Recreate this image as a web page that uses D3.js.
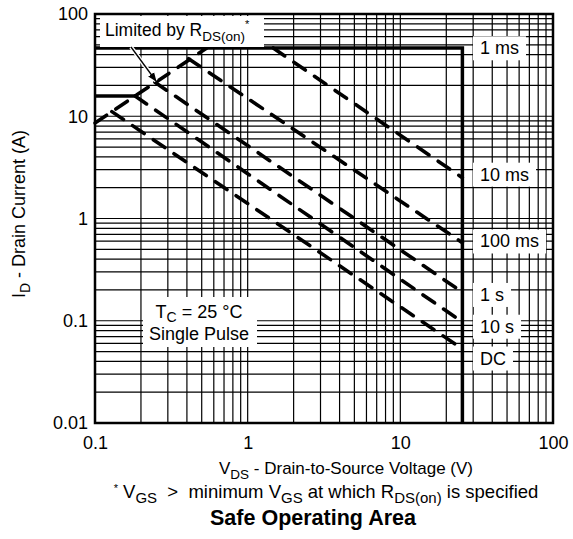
<!DOCTYPE html>
<html>
<head>
<meta charset="utf-8">
<script src="https://cdn.jsdelivr.net/npm/d3@7"></script>
<style>
  body { margin: 0; background: #fff; }
  svg { font-family: "Liberation Sans", Arial, Helvetica, sans-serif; }
</style>
</head>
<body>
<svg id="chart" width="573" height="539"></svg>
<script>
// Safe operating area (V in volts, I in amps)
var xTicks = [0.1, 1, 10, 100];
var yTicks = [0.01, 0.1, 1, 10, 100];

var curveNames = ["1 ms", "10 ms", "100 ms", "1 s", "10 s", "DC"];
var curve1ms   = [[0.1, 46.5], [25.5, 46.5], [25.5, 0.01]];
var curve10ms  = [[1.47, 46.5], [25.5, 2.5]];
var curve100ms = [[0.41, 36.5], [25.5, 0.58]];
var curve1s    = [[0.247, 21.5], [25.5, 0.19]];
var curve10s   = [[0.183, 15.8], [25.5, 0.097]];
var curveDC    = [[0.129, 11.1], [25.5, 0.053]];
var rdsLine    = [[0.1, 8.6], [0.54, 46.5]];
var shelf16A   = [[0.1, 15.8], [0.183, 15.8]];
// where the curve names sit on the right (current, A)
var labelCurrent = [46.5, 2.7, 0.6, 0.18, 0.088, 0.043];

var svg = d3.select("#chart");

var x = d3.scaleLog().domain([0.1, 100]).range([95, 553]);
var y = d3.scaleLog().domain([0.01, 100]).range([423, 14]);

// grid
var g = svg.append("g");
var xGrid = [], yGrid = [];
[0.1, 1, 10].forEach(function (d) {
  for (var k = 1; k < 10; k++) xGrid.push(k * d);
});
[0.01, 0.1, 1, 10].forEach(function (d) {
  for (var k = 1; k < 10; k++) yGrid.push(k * d);
});
g.selectAll(".vg").data(xGrid).enter().append("line")
  .attr("x1", d => x(d)).attr("x2", d => x(d))
  .attr("y1", y(0.01)).attr("y2", y(100))
  .attr("stroke", "#000").attr("stroke-width", 1.2);
g.selectAll(".hg").data(yGrid).enter().append("line")
  .attr("y1", d => y(d)).attr("y2", d => y(d))
  .attr("x1", x(0.1)).attr("x2", x(100))
  .attr("stroke", "#000").attr("stroke-width", 1.2);

var line = d3.line().x(d => x(d[0])).y(d => y(d[1]));

// curves
var dashed = [rdsLine, curve10ms, curve100ms, curve1s, curve10s, curveDC];
svg.selectAll(".dash").data(dashed).enter().append("path")
  .attr("d", line)
  .attr("fill", "none").attr("stroke", "#000")
  .attr("stroke-width", 3.6)
  .attr("stroke-linecap", "round")
  .attr("stroke-dasharray", "14,11");
svg.append("path").attr("d", line(shelf16A))
  .attr("fill", "none").attr("stroke", "#000").attr("stroke-width", 3.5);
svg.append("path").attr("d", line(curve1ms))
  .attr("fill", "none").attr("stroke", "#000").attr("stroke-width", 3.5);

// border
svg.append("rect")
  .attr("x", x(0.1)).attr("y", y(100))
  .attr("width", x(100) - x(0.1)).attr("height", y(0.01) - y(100))
  .attr("fill", "none").attr("stroke", "#000").attr("stroke-width", 2.5);

// axes (labels only)
var xAxis = d3.axisBottom(x).tickValues(xTicks).tickSize(0).tickPadding(13)
  .tickFormat(d => d3.format("~g")(d));
svg.append("g").attr("transform", "translate(0," + y(0.01) + ")").call(xAxis)
  .call(a => a.select(".domain").remove())
  .selectAll("text").attr("font-size", 18).attr("fill", "#000")
  .attr("font-family", "Liberation Sans, Arial, sans-serif");
var yAxis = d3.axisLeft(y).tickValues(yTicks).tickSize(0).tickPadding(7)
  .tickFormat(d => d3.format("~g")(d));
svg.append("g").attr("transform", "translate(" + x(0.1) + ",0)").call(yAxis)
  .call(a => a.select(".domain").remove())
  .selectAll("text").attr("font-size", 18).attr("fill", "#000")
  .attr("font-family", "Liberation Sans, Arial, sans-serif");

// curve names on the right, each on a white patch
curveNames.forEach(function (name, i) {
  var lg = svg.append("g");
  var r = lg.append("rect").attr("fill", "#fff");
  var t = lg.append("text").attr("x", 480).attr("y", y(labelCurrent[i]))
    .attr("dy", "0.35em").attr("font-size", 18).text(name);
  var bb = t.node().getBBox();
  r.attr("x", bb.x - 7).attr("y", bb.y - 2)
    .attr("width", bb.width + 14).attr("height", bb.height + 4);
});

// "Limited by RDS(on)*" box with arrow
svg.append("rect").attr("x", 100).attr("y", 16).attr("width", 164).attr("height", 31)
  .attr("fill", "#fff");
var lim = svg.append("text").attr("x", 105).attr("y", 36).attr("font-size", 17.5);
lim.append("tspan").text("Limited by R");
lim.append("tspan").attr("font-size", 13.5).attr("dy", 5).text("DS(on)");
lim.append("tspan").attr("font-size", 11).attr("dy", -13).text("*");

svg.append("defs").append("marker").attr("id", "ah")
  .attr("viewBox", "0 0 10 10").attr("refX", 9).attr("refY", 5)
  .attr("markerWidth", 7).attr("markerHeight", 7).attr("orient", "auto")
  .append("path").attr("d", "M0,1 L10,5 L0,9 Z").attr("fill", "#000");
svg.append("line").attr("x1", 131).attr("y1", 47).attr("x2", 156).attr("y2", 81)
  .attr("stroke", "#fff").attr("stroke-width", 4);
svg.append("line").attr("x1", 131).attr("y1", 47).attr("x2", 156).attr("y2", 81)
  .attr("stroke", "#000").attr("stroke-width", 1.3).attr("marker-end", "url(#ah)");

// TC box
svg.append("rect").attr("x", 143).attr("y", 297).attr("width", 114).attr("height", 50)
  .attr("fill", "#fff");
var tc = svg.append("text").attr("x", 199).attr("y", 318).attr("font-size", 18)
  .attr("text-anchor", "middle");
tc.append("tspan").text("T");
tc.append("tspan").attr("font-size", 14).attr("dy", 4).text("C");
tc.append("tspan").attr("dy", -4).text(" = 25 °C");
svg.append("text").attr("x", 199).attr("y", 340).attr("font-size", 18)
  .attr("text-anchor", "middle").text("Single Pulse");

// axis titles
var xt = svg.append("text").attr("x", 346).attr("y", 474).attr("font-size", 17)
  .attr("text-anchor", "middle");
xt.append("tspan").text("V");
xt.append("tspan").attr("font-size", 13.5).attr("dy", 5).text("DS");
xt.append("tspan").attr("dy", -5).text(" - Drain-to-Source Voltage (V)");

var yt = svg.append("text").attr("transform", "translate(25,214) rotate(-90)")
  .attr("font-size", 18).attr("text-anchor", "middle");
yt.append("tspan").text("I");
yt.append("tspan").attr("font-size", 14).attr("dy", 5).text("D");
yt.append("tspan").attr("dy", -5).text(" - Drain Current (A)");

var fn = svg.append("text").attr("x", 326).attr("y", 498).attr("font-size", 18.5)
  .attr("text-anchor", "middle");
fn.append("tspan").attr("font-size", 11).attr("dy", -6).text("*");
fn.append("tspan").attr("dy", 6).text(" V");
fn.append("tspan").attr("font-size", 15).attr("dy", 5).text("GS");
fn.append("tspan").attr("dy", -5).text("\u00a0\u00a0>\u00a0\u00a0minimum V");
fn.append("tspan").attr("font-size", 15).attr("dy", 5).text("GS");
fn.append("tspan").attr("dy", -5).text(" at which R");
fn.append("tspan").attr("font-size", 15).attr("dy", 5).text("DS(on)");
fn.append("tspan").attr("dy", -5).text(" is specified");

svg.append("text").attr("x", 313).attr("y", 525).attr("font-size", 21.5)
  .attr("font-weight", "bold").attr("text-anchor", "middle").text("Safe Operating Area");
</script>
</body>
</html>
